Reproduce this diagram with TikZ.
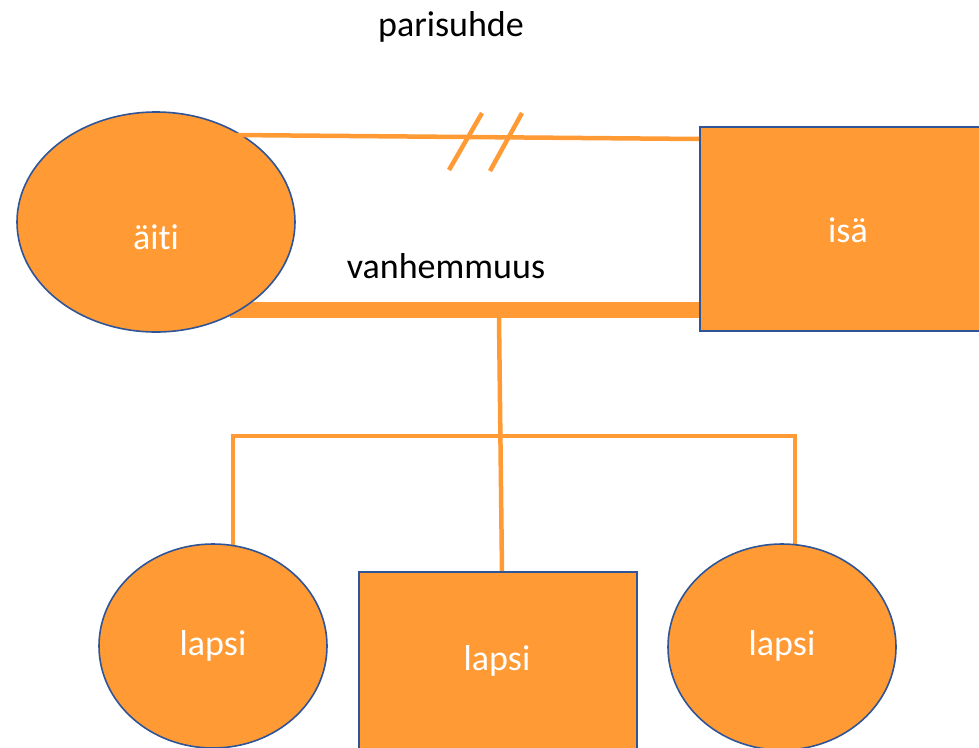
\documentclass[tikz,border=0pt]{standalone}
\usepackage{fontspec}
\setmainfont{Carlito}[Ligatures={NoCommon,TeX}]
\usetikzlibrary{shapes.geometric}
\definecolor{fillor}{HTML}{FF9A35}
\definecolor{edgeblue}{HTML}{2F5597}
\begin{document}
\begin{tikzpicture}[x=1pt,y=-1pt,
  person/.style={fill=fillor,draw=edgeblue,line width=1.6pt,inner sep=0pt},
  female/.style={person,ellipse},
  male/.style={person,rectangle},
  whitetext/.style={text=white,font=\fontsize{36}{43}\selectfont},
  link/.style={draw=fillor,line width=4.5pt},
  label/.style={font=\fontsize{36}{43}\selectfont,text=black}]
\useasboundingbox (0,0) rectangle (979,747);
% coordinates
\coordinate (p1) at (233,135);
\coordinate (p2) at (699,139);
\coordinate (v1) at (230,310);
\coordinate (v2) at (699,310);
\coordinate (vm) at (499,318);
\coordinate (cm) at (502,572);
\coordinate (h1) at (233,436);
\coordinate (h2) at (795,436);
\coordinate (l1) at (233,548);
\coordinate (r1) at (795,545);
% lines (behind shapes)
\draw[draw=fillor,line width=16pt] (v1) -- (v2);
\draw[link] (vm) -- (cm);
\draw[link] (l1) -- (h1) -- (h2) -- (r1);
\begin{scope}
\clip (0,0) rectangle (979,747);
% parents
\node[male,minimum width=290pt,minimum height=204pt] (isa) at (845,229) {};
\node[female,minimum width=278pt,minimum height=220pt] (aiti) at (156,222) {};
% children
\node[female,minimum width=228pt,minimum height=204pt] (c1) at (213,646) {};
\node[male,minimum width=278pt,minimum height=200pt] (c2) at (498,672) {};
\node[female,minimum width=228pt,minimum height=206pt] (c3) at (782,647) {};
\end{scope}
% partnership line (drawn over the border)
\draw[link] (p1) -- (p2);
\draw[link] (449,170) -- (482,113);
\draw[link] (490,171) -- (522,113);
% texts
\node[whitetext] (isat) at (848,230) {isä};
\node[whitetext] (aitit) at (156,237) {äiti};
\node[whitetext] (c1t) at (213,646) {lapsi};
\node[whitetext] (c2t) at (497,661) {lapsi};
\node[whitetext] (c3t) at (782,646) {lapsi};
\node[label] (par) at (451,27) {parisuhde};
\node[label] (van) at (446,266) {vanhemmuus};
\end{tikzpicture}
\end{document}
